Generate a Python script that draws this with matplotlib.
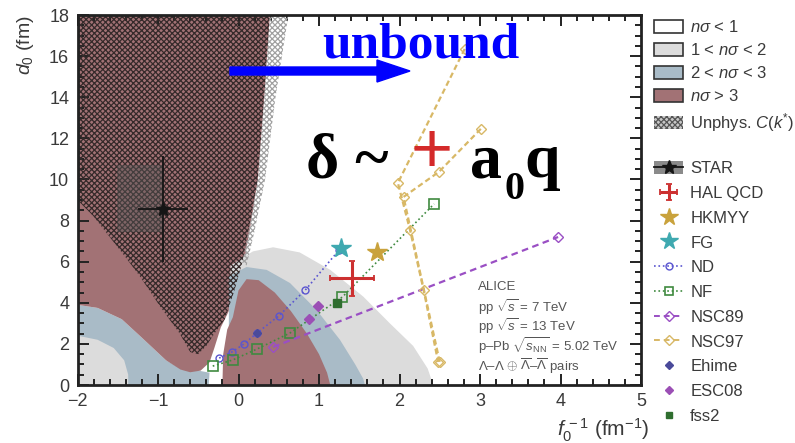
import matplotlib
matplotlib.use("Agg")
import matplotlib.pyplot as plt
from matplotlib.patches import Polygon, Rectangle, Patch, FancyArrow
from matplotlib.lines import Line2D
from matplotlib.ticker import MultipleLocator

plt.rcParams['font.family'] = ['Liberation Sans', 'DejaVu Sans']
plt.rcParams['mathtext.fontset'] = 'custom'
plt.rcParams['mathtext.rm'] = 'Liberation Sans'
plt.rcParams['mathtext.it'] = 'Liberation Sans:italic'
plt.rcParams['mathtext.bf'] = 'Liberation Sans:bold'
plt.rcParams['hatch.linewidth'] = 0.9

# ---------------- data ----------------
# exclusion regions in the (f0^-1, d0) plane
region_light_left = [(-2, 0), (-2, 2.4), (-1.75, 2.2), (-1.55, 1.8), (-1.42, 1.2), (-1.37, 0.5), (-1.37, 0)]
region_blue_left = [(-2, 0), (-2, 3.9), (-1.75, 3.75), (-1.45, 3.2), (-1.2, 2.3), (-0.9, 1.2),
                    (-0.7, 0.75), (-0.5, 0.7), (-0.36, 0.6), (-0.37, 0)]
region_maroon_left = [(-2, 3.9), (-1.75, 3.75), (-1.45, 3.2), (-1.2, 2.3), (-0.9, 1.2), (-0.72, 0.75),
                      (-0.6, 0.62), (-0.47, 0.7), (-0.36, 1.1), (-0.3, 1.8), (-0.22, 2.8), (-0.12, 3.6),
                      (-0.02, 4.8), (0.08, 6.2), (0.16, 8.0), (0.24, 10.0), (0.32, 14.0), (0.39, 18.0), (-2, 18)]
region_light_right = [(-0.1, 0), (-0.1, 5.8), (0.05, 6.2), (0.18, 6.5), (0.43, 6.7), (0.76, 6.45), (1.14, 5.6),
                      (1.55, 4.3), (1.88, 3.0), (2.17, 1.9), (2.35, 0.8), (2.42, 0)]
region_blue_right = [(-0.12, 0), (-0.12, 5.3), (0.1, 5.74), (0.35, 5.6), (0.64, 4.96), (0.97, 3.65),
                     (1.26, 2.2), (1.45, 1.0), (1.55, 0.3), (1.57, 0)]
region_maroon_right = [(-0.2, 0), (-0.19, 1.5), (-0.14, 2.7), (-0.07, 3.3), (0.0, 4.6), (0.1, 5.15),
                       (0.25, 5.1), (0.45, 4.5), (0.65, 3.6), (0.85, 2.5), (1.0, 1.5), (1.1, 0.6), (1.14, 0)]
region_unphys = [(-2, 18), (-2, 9.0), (-1.8, 8.2), (-1.6, 7.2), (-1.4, 6.2), (-1.22, 5.26), (-0.97, 3.8),
                 (-0.73, 2.5), (-0.6, 1.6), (-0.5, 1.5), (-0.4, 1.9), (-0.3, 2.5), (-0.17, 3.2), (-0.05, 4.6),
                 (0.05, 6.0), (0.15, 8.0), (0.24, 10.0), (0.32, 14.0), (0.39, 18.0)]
region_unphys_edge = [(0.39, 18.0), (0.32, 14.0), (0.24, 10.0), (0.15, 8.0), (0.05, 6.0), (0.1, 5.8),
                      (0.2, 7.5), (0.33, 10.0), (0.46, 14.0), (0.62, 18.0)]

# measurements and model predictions
star_x, star_y = [-0.94], [8.56]
star_xerr, star_yerr = [0.31], [2.6]
star_sys_x = [-1.51, -0.94]
star_sys_y = [7.45, 10.7]

hal_x, hal_y = [1.41], [5.2]
hal_xerr, hal_yerr = [0.27], [0.85]

hkmyy_x, hkmyy_y = [1.72], [6.47]
fg_x, fg_y = [1.27], [6.67]

nd_x = [-0.24, -0.08, 0.07, 0.23, 0.50, 0.83, 1.25]
nd_y = [1.31, 1.61, 2.0, 2.53, 3.36, 4.62, 6.57]

nf_x = [-0.32, -0.07, 0.23, 0.64, 1.29, 2.43]
nf_y = [0.92, 1.22, 1.75, 2.53, 4.28, 8.81]

nsc89_x = [0.43, 3.97]
nsc89_y = [1.85, 7.2]

nsc97a_x = [2.81, 1.98, 2.13, 2.30, 2.48]
nsc97a_y = [16.35, 9.83, 7.55, 4.62, 1.12]
nsc97b_x = [3.01, 2.49, 2.05, 2.50]
nsc97b_y = [12.46, 10.37, 9.15, 1.12]

ehime_x, ehime_y = [0.23], [2.53]
esc08_x, esc08_y = [0.87, 0.99], [3.2, 3.84]
fss2_x, fss2_y = [1.22], [3.99]

x_ticks = [-2, -1, 0, 1, 2, 3, 4, 5]
y_ticks = [0, 2, 4, 6, 8, 10, 12, 14, 16, 18]

# ---------------- style ----------------
LGRAY = '#dcdcdc'
BGRAY = '#a9bbc7'
MAROON = '#a27275'
C_ND = '#5a55d0'
C_NF = '#3f8a3f'
C_NSC89 = '#9a4fc4'
C_NSC97 = '#d8b866'
C_HKMYY = '#c9a23c'
C_FG = '#3fa9b0'
C_HAL = '#cc3030'
C_EHIME = '#4a4a9a'
C_ESC08 = '#9b4fb5'
C_FSS2 = '#2f6e2f'
TXT = '#3a3a3a'

W, H = 795, 443
fig = plt.figure(figsize=(W / 100, H / 100), dpi=100)
ax = fig.add_axes([77.5 / W, 1 - 385 / H, (641 - 77.5) / W, (385 - 15) / H])
ax.set_xlim(-2, 5)
ax.set_ylim(0, 18)

# confidence regions, outer bands first
for verts, col in [(region_blue_left, BGRAY), (region_light_left, LGRAY), (region_maroon_left, MAROON),
                   (region_light_right, LGRAY), (region_blue_right, BGRAY), (region_maroon_right, MAROON)]:
    ax.add_patch(Polygon(verts, closed=True, facecolor=col, edgecolor='none', zorder=1))

ax.add_patch(Polygon(region_unphys, closed=True, facecolor='none', edgecolor='#352a2a',
                     hatch='xxxxxx', linewidth=0, zorder=2))
ax.add_patch(Polygon(region_unphys_edge, closed=True, facecolor='none', edgecolor='#a0a0a0',
                     hatch='xxxxxx', linewidth=0, zorder=2))

# STAR systematic box and point
ax.add_patch(Rectangle((star_sys_x[0], star_sys_y[0]), star_sys_x[1] - star_sys_x[0],
                       star_sys_y[1] - star_sys_y[0], facecolor='#555555', alpha=0.45,
                       edgecolor='none', zorder=2.5))
ax.errorbar(star_x, star_y, xerr=star_xerr, yerr=star_yerr, fmt='*', color='#151515', ms=10,
            elinewidth=1.3, capsize=0, zorder=5)

# model curves
ax.plot(nd_x, nd_y, ls=':', color=C_ND, lw=1.2, marker='o', ms=5, mfc='none', mec=C_ND, mew=1.0, zorder=3)
ax.plot(nf_x, nf_y, ls=':', color=C_NF, lw=1.2, marker='s', ms=6.5, mfc='none', mec=C_NF, mew=1.2, zorder=3)
ax.plot(nsc89_x, nsc89_y, ls=(0, (3, 2)), color=C_NSC89, lw=1.6, marker='D', ms=5, mfc='none',
        mec=C_NSC89, mew=1.0, zorder=3)
for xs, ys in [(nsc97a_x, nsc97a_y), (nsc97b_x, nsc97b_y)]:
    ax.plot(xs, ys, ls=(0, (2.5, 1.5)), color=C_NSC97, lw=1.6, marker='D', ms=5, mfc='none',
            mec=C_NSC97, mew=1.0, zorder=3)
ax.plot(ehime_x, ehime_y, ls='none', marker='D', ms=4.5, color=C_EHIME, zorder=4)
ax.plot(esc08_x, esc08_y, ls='none', marker='D', ms=5, color=C_ESC08, zorder=4)
ax.plot(fss2_x, fss2_y, ls='none', marker='s', ms=6, color=C_FSS2, zorder=4)
ax.plot(hkmyy_x, hkmyy_y, ls='none', marker='*', ms=15, color=C_HKMYY, zorder=4)
ax.plot(fg_x, fg_y, ls='none', marker='*', ms=15, color=C_FG, zorder=4)
hal = ax.errorbar(hal_x, hal_y, xerr=hal_xerr, yerr=hal_yerr, fmt='none', ecolor=C_HAL,
                  elinewidth=2.2, capsize=2.5, capthick=1.3, zorder=5)

# axes styling
ax.set_xticks(x_ticks)
ax.set_yticks(y_ticks)
ax.xaxis.set_minor_locator(MultipleLocator(0.2))
ax.yaxis.set_minor_locator(MultipleLocator(0.5))
ax.tick_params(which='both', direction='in', top=True, right=True, color='#222222', width=1.4,
               labelsize=13, labelcolor=TXT, pad=6)
ax.tick_params(which='major', length=8)
ax.tick_params(which='minor', length=4.5)
for sp in ax.spines.values():
    sp.set_linewidth(2)
    sp.set_color('#222222')
    sp.set_zorder(6)

fig.text(25 / W, 1 - 45 / H, r'$d_0$ (fm)', rotation=90, ha='center', va='center', fontsize=14, color=TXT)
fig.text(557 / W, 1 - 430 / H, r'$f_0^{\,-1}$ (fm$^{-1}$)', ha='left', va='center', fontsize=15, color=TXT)

# ALICE info block
alice_lines = ['ALICE', r'pp $\sqrt{s}$ = 7 TeV', r'pp $\sqrt{s}$ = 13 TeV',
               r'p–Pb $\sqrt{s_{\rm NN}}$ = 5.02 TeV',
               r'$\Lambda$–$\Lambda$ $\oplus$ $\overline{\Lambda}$–$\overline{\Lambda}$ pairs']
alice_y = [287, 307, 326, 346, 366]
for t, yp in zip(alice_lines, alice_y):
    fig.text(478 / W, 1 - yp / H, t, ha='left', va='center', fontsize=9.5, color='#555555')

# annotations
serif = ['Liberation Serif', 'DejaVu Serif']
fig.add_artist(FancyArrow(2.30, (H - 71) / 100, 1.80, 0, width=0.08, head_width=0.22, head_length=0.33,
                          length_includes_head=True, color='#0000ff', transform=fig.dpi_scale_trans))
fig.text(322 / W, 1 - 58 / H, 'unbound', family=serif, weight='bold', fontsize=37, color='#0000ff',
         ha='left', va='baseline')
fig.text(306 / W, 1 - 177 / H, 'δ ~', family=serif, weight='bold', fontsize=46, color='black',
         ha='left', va='baseline')
fig.text(432 / W, 1 - 154 / H, '+', family=['Liberation Sans'], fontsize=52, color='#d42a2a',
         ha='center', va='center')
fig.text(470 / W, 1 - 177 / H, 'a', family=serif, weight='bold', fontsize=46, color='black',
         ha='left', va='baseline')
fig.text(504 / W, 1 - 199 / H, '0', family=serif, weight='bold', fontsize=29, color='black',
         ha='left', va='baseline')
fig.text(524 / W, 1 - 177 / H, 'q', family=serif, weight='bold', fontsize=46, color='black',
         ha='left', va='baseline')

# legends
h1 = [Patch(facecolor='white', edgecolor='#333333', lw=1.2),
      Patch(facecolor=LGRAY, edgecolor='#333333', lw=1.2),
      Patch(facecolor=BGRAY, edgecolor='#333333', lw=1.2),
      Patch(facecolor=MAROON, edgecolor='#333333', lw=1.2),
      Patch(facecolor='#c8c8c8', edgecolor='#555555', hatch='xxxxxx', lw=0)]
l1 = [r'$n\sigma$ < 1', r'1 < $n\sigma$ < 2', r'2 < $n\sigma$ < 3', r'$n\sigma$ > 3', r'Unphys. $C(k^{*})$']
leg1 = fig.legend(h1, l1, loc='upper left', bbox_to_anchor=(654 / W, 1 - 19 / H), frameon=False,
                  fontsize=12, handlelength=1.75, handleheight=0.85, labelspacing=0.42,
                  handletextpad=0.42, borderaxespad=0, borderpad=0, labelcolor=TXT)

h2 = [(Patch(facecolor='#8a8a8a', edgecolor='none'),
       Line2D([], [], color='#151515', lw=1.3, marker='*', ms=10)),
      hal,
      Line2D([], [], ls='none', marker='*', ms=13, color=C_HKMYY),
      Line2D([], [], ls='none', marker='*', ms=13, color=C_FG),
      Line2D([], [], ls=':', color=C_ND, lw=1.2, marker='o', ms=5, mfc='none', mec=C_ND),
      Line2D([], [], ls=':', color=C_NF, lw=1.2, marker='s', ms=6, mfc='none', mec=C_NF, mew=1.2),
      Line2D([], [], ls=(0, (3, 2)), color=C_NSC89, lw=1.4, marker='D', ms=5, mfc='none', mec=C_NSC89),
      Line2D([], [], ls=(0, (3, 2)), color=C_NSC97, lw=1.4, marker='D', ms=5, mfc='none', mec=C_NSC97),
      Line2D([], [], ls='none', marker='D', ms=4, color=C_EHIME),
      Line2D([], [], ls='none', marker='D', ms=4.5, color=C_ESC08),
      Line2D([], [], ls='none', marker='s', ms=5, color=C_FSS2)]
l2 = ['STAR', 'HAL QCD', 'HKMYY', 'FG', 'ND', 'NF', 'NSC89', 'NSC97', 'Ehime', 'ESC08', 'fss2']
leg2 = fig.legend(h2, l2, loc='upper left', bbox_to_anchor=(654 / W, 1 - 161 / H), frameon=False,
                  fontsize=12, handlelength=1.75, handleheight=0.85, labelspacing=0.56,
                  handletextpad=0.42, borderaxespad=0, borderpad=0, labelcolor=TXT)

fig.savefig('out.png', dpi=100)
